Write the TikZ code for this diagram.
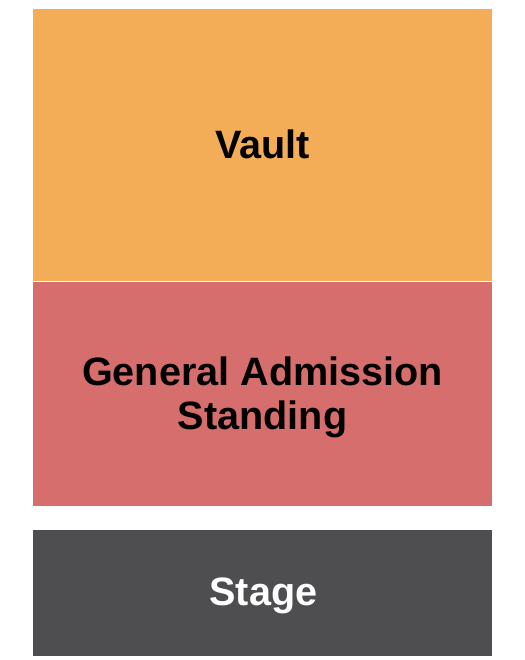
\documentclass[tikz,border=0pt]{standalone}
\usepackage{fontspec}
\setmainfont{Liberation Sans}
\definecolor{vaultc}{HTML}{F3AD57}
\definecolor{gac}{HTML}{D76E6E}
\definecolor{stagec}{HTML}{4E4E50}
\begin{document}
\begin{tikzpicture}[x=1bp,y=-1bp,
  lbl/.style={font=\bfseries\fontsize{39.6bp}{46bp}\selectfont,inner sep=0pt,anchor=base}]
\useasboundingbox (0,0) rectangle (525,660);
\fill[vaultc] (33,9) rectangle (492,281);
\fill[gac] (33,282) rectangle (492,505.5);
\fill[stagec] (33,530) rectangle (492,656);
\node[lbl,text=black] (vault) at (262.5,158) {Vault};
\node[lbl,text=black] (ga1) at (262.5,385) {General Admission};
\node[lbl,text=black] (ga2) at (262.5,429) {Standing};
\node[lbl,text=white] (stage) at (263.5,605) {Stage};
\end{tikzpicture}
\end{document}
